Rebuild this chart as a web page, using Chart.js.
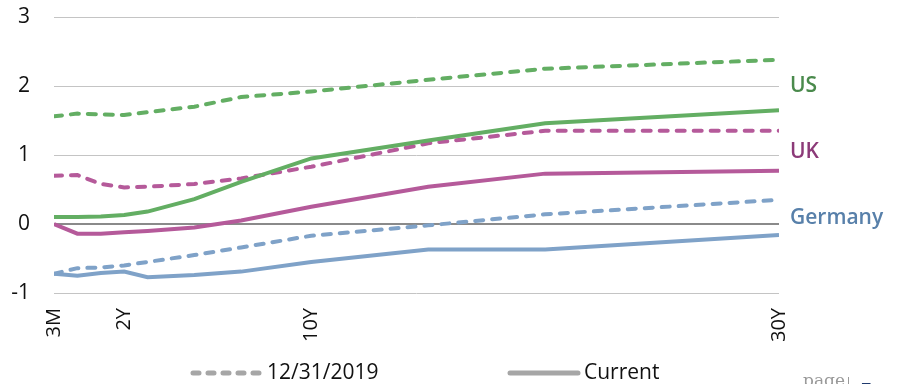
<!DOCTYPE html>
<html>
<head>
<meta charset="utf-8">
<script src="https://cdn.jsdelivr.net/npm/chart.js@4.4.1/dist/chart.umd.min.js"></script>
<style>
  html, body { margin: 0; padding: 0; background: #fff; }
  #wrap { position: relative; width: 903px; height: 384px; overflow: hidden; }
  .pg { position: absolute; left: 803px; top: 370px; font-family: "DejaVu Serif", "Liberation Serif", serif; font-size: 17px; color: #9a9a9a; }
  .bar { position: absolute; left: 848px; top: 377px; width: 1px; height: 14px; background: #9a9a9a; }
  .num { position: absolute; left: 860px; top: 374px; font-family: "Open Sans", sans-serif; font-weight: 700; font-size: 22px; color: #1f3a6e; }
</style>
</head>
<body>
<div id="wrap">
  <canvas id="myChart" width="903" height="384"></canvas>
  <span class="pg">page</span><span class="bar"></span><span class="num">5</span>
</div>
<script>
// maturities and where each one sits on the x axis
const maturities = ['3M', '6M', '1Y', '2Y', '3Y', '5Y', '7Y', '10Y', '15Y', '20Y', '30Y']
const maturityPos = [0, 1, 2, 3, 4, 6, 8, 11, 16, 21, 31]
const tickMaturities = ['3M', '2Y', '10Y', '30Y']
const yTicks = [-1, 0, 1, 2, 3]

const countries = ['US', 'UK', 'Germany']
const legendLabels = ['12/31/2019', 'Current']

// yields (%) at 12/31/2019 and now
const us2019 = [1.56, 1.60, 1.59, 1.58, 1.62, 1.70, 1.84, 1.92, 2.09, 2.25, 2.38]
const usNow = [0.10, 0.10, 0.11, 0.13, 0.18, 0.36, 0.61, 0.95, 1.21, 1.46, 1.65]
const uk2019 = [0.70, 0.71, 0.58, 0.53, 0.54, 0.58, 0.66, 0.83, 1.17, 1.35, 1.35]
const ukNow = [0.00, -0.14, -0.14, -0.12, -0.10, -0.05, 0.05, 0.25, 0.54, 0.73, 0.77]
const de2019 = [-0.72, -0.64, -0.63, -0.60, -0.55, -0.45, -0.34, -0.17, -0.02, 0.14, 0.35]
const deNow = [-0.72, -0.75, -0.71, -0.69, -0.77, -0.74, -0.69, -0.55, -0.37, -0.37, -0.16]

const prior = [us2019, uk2019, de2019]
const current = [usNow, ukNow, deNow]
const lineColors = ['#63ae63', '#b55a9a', '#7fa2c8']
const textColors = ['#4a8a4c', '#8c3a78', '#5880aa']
const FONT = '"Open Sans", sans-serif'

const toPoints = arr => arr.map((v, i) => ({ x: maturityPos[i], y: v }))

let datasets = []
countries.forEach((c, i) => {
    datasets.push({
        label: c + ' ' + legendLabels[0],
        data: toPoints(prior[i]),
        borderColor: lineColors[i],
        borderWidth: 4,
        borderDash: [8, 9],
        borderCapStyle: 'round'
    })
    datasets.push({
        label: c + ' ' + legendLabels[1],
        data: toPoints(current[i]),
        borderColor: lineColors[i],
        borderWidth: 4
    })
})

// country names to the right of each pair of curves
const endLabels = {
    id: 'endLabels',
    afterDatasetsDraw(chart) {
        const { ctx, chartArea, scales } = chart
        ctx.save()
        ctx.font = '600 21px ' + FONT
        ctx.textBaseline = 'middle'
        ctx.textAlign = 'left'
        countries.forEach((c, i) => {
            const mid = (prior[i][prior[i].length - 1] + current[i][current[i].length - 1]) / 2
            ctx.fillStyle = textColors[i]
            ctx.fillText(c, chartArea.right + 11, scales.y.getPixelForValue(mid) + 1)
        })
        ctx.restore()
    }
}

// legend along the bottom: dashed = 12/31/2019, solid = current
const lineLegend = {
    id: 'lineLegend',
    afterDraw(chart) {
        const ctx = chart.ctx
        const xs = [193, 510]
        const y = 373
        ctx.save()
        legendLabels.forEach((txt, i) => {
            ctx.beginPath()
            ctx.setLineDash(i === 0 ? [6, 9] : [])
            ctx.lineCap = 'round'
            ctx.lineWidth = 5
            ctx.strokeStyle = '#a6a6a6'
            ctx.moveTo(xs[i], y)
            ctx.lineTo(xs[i] + 68, y)
            ctx.stroke()
            ctx.setLineDash([])
            ctx.fillStyle = '#111'
            ctx.font = '21px ' + FONT
            ctx.textBaseline = 'middle'
            ctx.fillText(txt, xs[i] + 74, y)
        })
        ctx.restore()
    }
}

let ctx = document.getElementById('myChart').getContext('2d')
let myChart = new Chart(ctx, {
    type: 'line',
    data: { datasets: datasets },
    plugins: [endLabels, lineLegend],
    options: {
        responsive: false,
        animation: false,
        layout: { padding: { top: 0, right: 124, bottom: 0, left: 0 } },
        elements: { point: { radius: 0 }, line: { tension: 0 } },
        plugins: { legend: { display: false }, tooltip: { enabled: false } },
        scales: {
            x: {
                type: 'linear',
                min: maturityPos[0],
                max: maturityPos[maturityPos.length - 1],
                afterBuildTicks: s => { s.ticks = tickMaturities.map(m => ({ value: maturityPos[maturities.indexOf(m)] })) },
                afterFit: s => { s.height = 91 },
                grid: { display: false },
                border: { display: false },
                ticks: {
                    autoSkip: false,
                    minRotation: 90,
                    maxRotation: 90,
                    padding: 7,
                    color: '#111',
                    font: { family: FONT, size: 20 },
                    callback: v => maturities[maturityPos.indexOf(v)]
                }
            },
            y: {
                min: yTicks[0],
                max: yTicks[yTicks.length - 1],
                afterBuildTicks: s => { s.ticks = yTicks.map(v => ({ value: v })) },
                afterFit: s => { s.width = 54; s.paddingTop = 17; s.paddingBottom = 0 },
                border: { display: false },
                grid: {
                    drawTicks: false,
                    color: c => c.tick.value === 0 ? '#8a8a8a' : '#c4c4c4',
                    lineWidth: c => c.tick.value === 0 ? 2 : 1
                },
                ticks: {
                    padding: 24,
                    color: '#111',
                    font: { family: FONT, size: 21 }
                }
            }
        }
    }
})
</script>
</body>
</html>
